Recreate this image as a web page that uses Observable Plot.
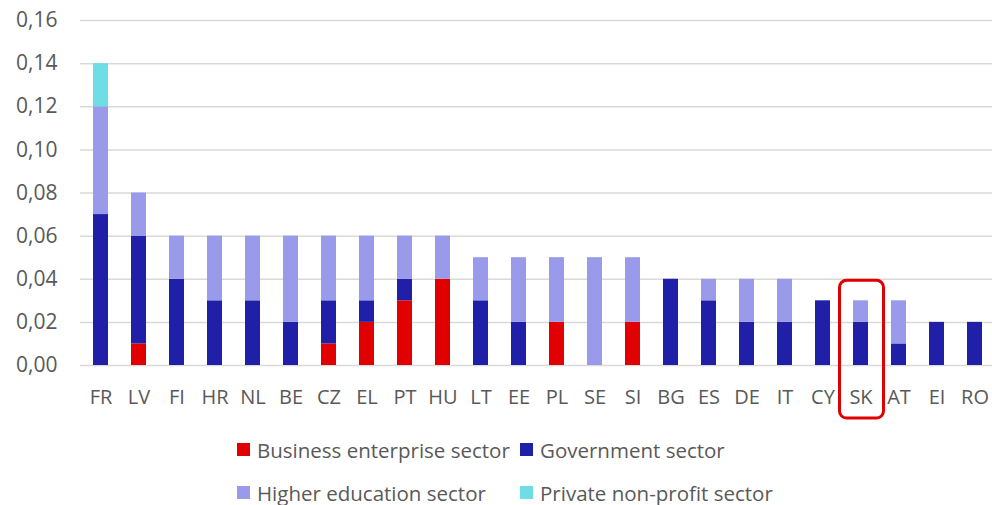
<!DOCTYPE html>
<html>
<head>
<meta charset="utf-8">
<script src="https://cdn.jsdelivr.net/npm/d3@7"></script>
<script src="https://cdn.jsdelivr.net/npm/@observablehq/plot@0.6"></script>
<style>
  html, body { margin: 0; padding: 0; background: #fff; }
  body { width: 992px; height: 505px; overflow: hidden; font-family: "Open Sans", sans-serif; color: #595959; }
  #legend { display: grid; grid-template-columns: 283px auto; margin-left: 237px; margin-top: 8px; font-size: 20.5px; }
  .item { display: flex; align-items: center; height: 43px; white-space: nowrap; }
  .sw { width: 13px; height: 13px; margin-right: 7px; flex: none; }
</style>
</head>
<body>
<div id="chart"></div>
<div id="legend"></div>
<script>
const countries = ["FR","LV","FI","HR","NL","BE","CZ","EL","PT","HU","LT","EE","PL","SE","SI","BG","ES","DE","IT","CY","SK","AT","EI","RO"];
const business   = [0,0.01,0,0,0,0,0.01,0.02,0.03,0.04,0,0,0.02,0,0.02,0,0,0,0,0,0,0,0,0];
const government = [0.07,0.05,0.04,0.03,0.03,0.02,0.02,0.01,0.01,0,0.03,0.02,0,0,0,0.04,0.03,0.02,0.02,0.03,0.02,0.01,0.02,0.02];
const higherEd   = [0.05,0.02,0.02,0.03,0.03,0.04,0.03,0.03,0.02,0.02,0.02,0.03,0.03,0.05,0.03,0,0.01,0.02,0.02,0,0.01,0.02,0,0];
const privateNP  = [0.02,0,0,0,0,0,0,0,0,0,0,0,0,0,0,0,0,0,0,0,0,0,0,0];
const sectors = ["Business enterprise sector","Government sector","Higher education sector","Private non-profit sector"];
const colors  = ["#e00000","#1f1fa8","#999ae9","#6fdde6"];
const yTicks  = [0,0.02,0.04,0.06,0.08,0.10,0.12,0.14,0.16];
const highlight = "SK";

const series = [business, government, higherEd, privateNP];
const data = countries.flatMap((c, i) => sectors.map((s, k) => ({country: c, sector: s, value: series[k][i]})));

const plot = Plot.plot({
  width: 992,
  height: 420,
  marginTop: 20,
  marginBottom: 55,
  marginLeft: 80,
  marginRight: 0,
  style: {fontFamily: "Open Sans, sans-serif", fontSize: "20px", color: "#595959", background: "#fff"},
  x: {domain: countries, range: [80, 996], paddingInner: 0.6, paddingOuter: 0.3, axis: null},
  y: {domain: [0, 0.16], axis: null},
  color: {domain: sectors, range: colors},
  marks: [
    Plot.ruleY(yTicks, {stroke: "#d9d9d9", strokeWidth: 1.5}),
    Plot.barY(data, {x: "country", y: "value", fill: "sector"}),
    Plot.axisY({ticks: yTicks, tickFormat: d => d.toFixed(2).replace(".", ","), tickSize: 0, tickPadding: 23, label: null, fill: "#595959", fontSize: 21}),
    Plot.axisX({tickSize: 0, tickPadding: 24, label: null, fill: "#595959", fontSize: 20})
  ]
});
document.getElementById("chart").appendChild(plot);

// highlight box around selected country
const xs = plot.scale("x"), ys = plot.scale("y");
const hi = countries.indexOf(highlight);
const total = series.reduce((a, s) => a + s[hi], 0);
const bx = xs.apply(highlight), bw = xs.bandwidth;
d3.select(plot).append("rect")
  .attr("x", bx - 13.5).attr("width", bw + 29)
  .attr("y", ys.apply(total) - 20).attr("height", ys.apply(0) + 53 - (ys.apply(total) - 20))
  .attr("rx", 7).attr("fill", "none").attr("stroke", "#e00000").attr("stroke-width", 3);

const legend = document.getElementById("legend");
sectors.forEach((s, k) => {
  const it = document.createElement("div");
  it.className = "item";
  it.innerHTML = `<span class="sw" style="background:${colors[k]}"></span><span>${s}</span>`;
  legend.appendChild(it);
});
</script>
</body>
</html>
